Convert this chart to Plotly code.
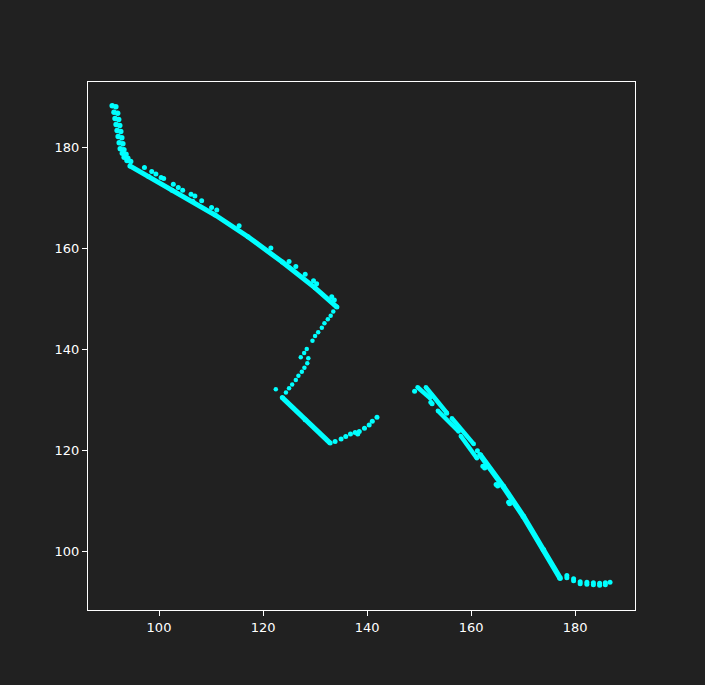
import plotly.graph_objects as go

# start of the track: short near-vertical run of paired dots
start_x = [91.0, 91.7, 91.35, 92.05, 91.55, 92.25, 91.75, 92.45, 91.95, 92.65, 92.15, 92.85,
           92.35, 93.05, 92.55, 93.25, 92.95, 93.65, 93.3, 94.0, 93.85, 94.55]
start_y = [188.2, 188.0, 186.9, 186.7, 185.7, 185.5, 184.5, 184.3, 183.3, 183.1, 182.1, 181.9,
           180.9, 180.7, 179.7, 179.5, 178.8, 178.6, 178.0, 177.8, 177.4, 177.2]

# dense upper run
upper_x = [94.4, 98.0, 102.5, 106.5, 110.8, 117.1, 123.7, 130.0, 134.2]
upper_y = [176.3, 174.2, 171.5, 169.3, 166.6, 162.3, 157.3, 152.2, 148.4]

# stray points just above the upper run
upper_dots_x = [97.2, 98.6, 99.4, 100.4, 100.9, 102.75, 103.7, 104.55, 106.15, 106.9, 108.2,
                110.1, 111.1, 115.4, 121.5, 125.0, 126.3, 128.1, 129.7, 130.3, 133.2, 133.7]
upper_dots_y = [176.0, 175.2, 174.7, 174.0, 173.8, 172.7, 172.05, 171.5, 170.7, 170.35, 169.4,
                168.1, 167.6, 164.5, 160.1, 157.4, 156.4, 154.9, 153.6, 153.0, 150.45, 149.8]

# sparse link going down-left
link_x = [133.5, 133.0, 132.45, 131.8, 131.3, 130.6, 130.0, 129.5, 128.4, 127.9, 128.7,
          127.25, 128.5, 127.95, 127.45, 126.8, 126.3, 125.6, 125.0, 124.4, 122.45]
link_y = [147.5, 146.7, 146.0, 145.2, 144.3, 143.4, 142.7, 141.75, 140.1, 139.3, 138.3,
          138.5, 137.3, 136.4, 135.6, 134.8, 134.0, 133.1, 132.35, 131.5, 132.15]

# dense lower run
lower_x = [123.7, 128.1, 132.9]
lower_y = [130.5, 126.1, 121.5]

# hook of dots to the right of the lower run
hook_x = [133.85, 135.0, 135.9, 136.8, 137.7, 138.2, 138.5, 139.5, 140.4, 141.0, 141.9]
hook_y = [121.8, 122.3, 122.8, 123.3, 123.6, 123.3, 123.8, 124.45, 125.1, 125.8, 126.6]

# short parallel streaks on the right
streak_x = [149.7, 152.1, None, 151.3, 155.3, None, 153.6, 157.6, None, 156.3, 160.5, None, 158.0, 161.1]
streak_y = [132.55, 130.4, None, 132.55, 127.5, None, 127.9, 123.8, None, 126.4, 121.3, None, 122.9, 118.5]

right_dots_x = [149.13, 152.25, 152.5, 155.3, 161.2, 162.25, 162.6, 164.8, 165.1, 167.2, 167.4]
right_dots_y = [131.76, 129.6, 129.3, 127.4, 120.0, 116.9, 116.6, 113.3, 113.0, 109.8, 109.5]

# dense right run
right_x = [161.7, 166.2, 170.05, 173.9, 177.1]
right_y = [119.2, 112.9, 107.0, 100.4, 94.8]

# tail of dots at the end
tail_x = [178.4, 178.4, 179.7, 179.7, 180.96, 180.96, 182.25, 182.25, 183.5, 183.5,
          184.7, 184.7, 185.8, 185.8, 186.7]
tail_y = [95.3, 94.9, 94.7, 94.3, 94.1, 93.7, 94.0, 93.6, 93.9, 93.5,
          93.8, 93.4, 93.9, 93.5, 94.0]

COLOR = "cyan"
BG = "#212121"

fig = go.Figure()


def add_dots(xs, ys, size=5):
    fig.add_trace(go.Scatter(x=xs, y=ys, mode="markers",
                             marker=dict(color=COLOR, size=size, line=dict(width=0))))


def add_run(xs, ys, width=5):
    fig.add_trace(go.Scatter(x=xs, y=ys, mode="lines+markers",
                             line=dict(color=COLOR, width=width),
                             marker=dict(color=COLOR, size=width, line=dict(width=0)),
                             connectgaps=False))


add_dots(start_x, start_y, size=5.5)
add_run(upper_x, upper_y)
add_dots(upper_dots_x, upper_dots_y)
add_dots(link_x, link_y, size=4.5)
add_run(lower_x, lower_y)
add_dots(hook_x, hook_y)
add_run(streak_x, streak_y, width=4.5)
add_dots(right_dots_x, right_dots_y)
add_run(right_x, right_y, width=5.5)
add_dots(tail_x, tail_y)

axis_style = dict(
    showline=True, linecolor="white", linewidth=1, mirror=True,
    ticks="outside", ticklen=5, tickwidth=1, tickcolor="white",
    showgrid=False, zeroline=False,
    tickfont=dict(family="DejaVu Sans", size=13, color="white"),
)

fig.update_layout(
    width=705, height=685,
    margin=dict(l=88, r=70, t=82, b=75),
    paper_bgcolor=BG, plot_bgcolor=BG,
    showlegend=False,
    xaxis=dict(range=[86.35, 191.5], tickvals=[100, 120, 140, 160, 180], **axis_style),
    yaxis=dict(range=[88.5, 192.9], tickvals=[100, 120, 140, 160, 180], **axis_style),
)

# drop the default page margin so the figure sits at the window's corner
page_js = "document.body.style.margin='0';document.body.style.background='%s';" % BG
fig.write_html("out.html", post_script=page_js, config={"displayModeBar": False})
